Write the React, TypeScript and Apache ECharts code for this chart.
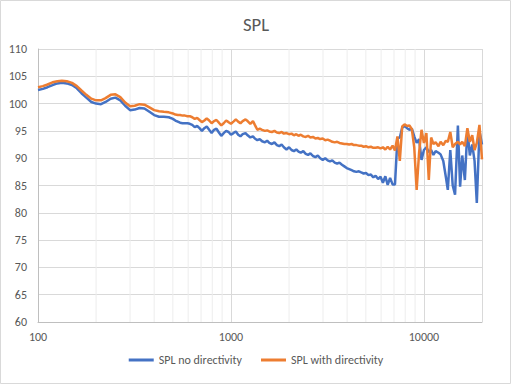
import React, { useEffect, useRef } from "react";
import * as echarts from "echarts";

const frequencies = [
  100, 106, 112, 119, 126, 133, 141, 150, 159, 168,
  178, 189, 200, 212, 224, 238, 252, 267, 283, 300,
  317, 336, 356, 378, 400, 424, 449, 476, 500, 515,
  530, 545, 561, 578, 595, 612, 630, 649, 668, 687,
  707, 728, 749, 771, 794, 817, 841, 866, 891, 917,
  944, 972, 1000, 1030, 1060, 1090, 1120, 1150, 1190, 1220,
  1260, 1300, 1330, 1370, 1410, 1450, 1500, 1540, 1580, 1630,
  1680, 1730, 1780, 1830, 1880, 1940, 2000, 2060, 2120, 2180,
  2240, 2300, 2370, 2440, 2510, 2580, 2660, 2740, 2820, 2900,
  2990, 3080, 3170, 3260, 3350, 3450, 3550, 3650, 3760, 3870,
  3980, 4100, 4220, 4340, 4470, 4600, 4730, 4870, 5010, 5160,
  5310, 5470, 5620, 5790, 5960, 6130, 6310, 6490, 6680, 6880,
  7080, 7290, 7500, 7720, 7940, 8180, 8410, 8660, 8910, 9170,
  9440, 9720, 10000, 10300, 10600, 10900, 11200, 11500, 11900, 12200,
  12600, 13000, 13300, 13700, 14100, 14500, 15000, 15400, 15800, 16300,
  16800, 17300, 17800, 18300, 18800, 19400, 20000,
];

const splNoDirectivity = [
  102.5, 102.7, 103.0, 103.4, 103.7, 103.8, 103.7, 103.4, 102.8, 101.9,
  101.1, 100.3, 100.0, 99.9, 100.3, 100.9, 101.1, 100.6, 99.6, 98.8,
  98.9, 99.2, 99.1, 98.5, 97.9, 97.6, 97.6, 97.5, 97.2, 96.9,
  96.7, 96.5, 96.4, 96.4, 96.4, 96.3, 96.1, 95.7, 95.9, 95.5,
  95.0, 95.5, 95.8, 95.2, 94.6, 95.2, 95.4, 94.7, 94.1, 94.6,
  95.0, 94.8, 94.3, 94.6, 94.9, 94.3, 94.0, 94.4, 94.6, 94.2,
  93.8, 94.0, 93.6, 93.3, 93.5, 93.1, 92.9, 93.2, 92.8, 92.6,
  92.9, 92.4, 92.2, 92.5, 92.0, 91.6, 92.0, 91.5, 91.3, 91.6,
  91.2, 91.0, 91.3, 90.8, 90.6, 90.9, 90.4, 90.2, 90.5, 90.0,
  89.7, 90.0, 89.6, 89.4, 89.6, 89.2, 89.0, 89.2, 88.8, 88.5,
  88.2, 88.0, 87.8, 87.6, 87.5, 87.6, 87.4, 87.2, 87.3, 86.9,
  87.0, 86.5, 86.8, 86.2, 86.6, 85.5, 86.7, 85.1, 86.4, 85.2,
  85.2, 93.6, 93.8, 95.6, 95.9, 95.5, 95.2, 95.4, 94.0, 92.8,
  93.5, 89.7, 91.5, 92.0, 91.1, 91.5, 90.6, 91.3, 91.0, 90.7,
  89.5, 86.5, 84.2, 91.5, 85.0, 83.3, 96.0, 84.8, 90.5, 86.0,
  95.2, 90.5, 92.5, 89.5, 81.8, 95.0, 92.5,
];

const splWithDirectivity = [
  103.0, 103.2, 103.5, 103.9, 104.1, 104.2, 104.1, 103.8, 103.2, 102.4,
  101.6, 100.9, 100.6, 100.6, 101.0, 101.6, 101.7, 101.2, 100.2, 99.5,
  99.6, 99.9, 99.8, 99.3, 98.8, 98.6, 98.5, 98.4, 98.2, 98.0,
  97.9, 97.9, 97.8, 97.8, 97.7, 97.7, 97.5, 97.2, 97.4, 97.0,
  96.6, 96.9, 97.3, 96.9, 96.4, 96.8, 97.0, 96.5, 96.0, 96.4,
  96.9, 96.6, 96.3, 96.7, 97.1, 96.7, 96.4, 96.8, 97.1, 96.8,
  96.3, 96.8, 96.1, 95.2, 95.4, 95.2, 95.0, 95.1, 94.9, 94.8,
  95.0, 94.7, 94.6, 94.8, 94.5, 94.6, 94.4, 94.5, 94.2, 94.4,
  94.1, 94.3, 94.0, 93.9, 94.1, 93.8, 93.9, 93.6, 93.7, 93.5,
  93.6, 93.3, 93.4, 93.2, 93.0, 92.9, 93.0, 92.8, 92.7, 92.6,
  92.6, 92.5, 92.6, 92.4, 92.4, 92.3, 92.3, 92.1, 92.2, 92.0,
  92.1, 91.9, 91.9, 92.0, 91.8, 92.0, 91.6, 92.1, 91.6, 92.3,
  91.4, 94.0, 89.5, 95.8, 96.2, 95.9, 96.0, 95.3, 92.0, 84.2,
  91.0, 95.2, 92.8, 94.6, 86.0, 93.8, 92.6, 92.9, 92.2, 93.0,
  92.4, 93.2, 93.0, 94.8, 92.0, 92.6, 93.0, 92.5, 93.0, 92.2,
  95.5, 93.0, 94.2, 91.5, 92.8, 96.1, 89.8,
];

const minorGridFreqs = [
  200, 300, 400, 500, 600, 700, 800, 900,
  2000, 3000, 4000, 5000, 6000, 7000, 8000, 9000,
];

const seriesNames = ["SPL no directivity", "SPL with directivity"];
const seriesColors = ["#4472C4", "#ED7D31"];

const FONT = "Carlito, 'Liberation Sans', Arial, sans-serif";
const TEXT = "#595959";

export default function App() {
  const ref = useRef<HTMLDivElement>(null);

  useEffect(() => {
    if (!ref.current) return;
    const chart = echarts.init(ref.current, undefined, { renderer: "svg" });
    const pairs = (vals: number[]) => frequencies.map((f, i) => [f, vals[i]]);

    chart.setOption({
      animation: false,
      backgroundColor: "#ffffff",
      textStyle: { fontFamily: FONT },
      title: {
        text: "SPL",
        left: "center",
        top: 10,
        textStyle: { fontFamily: FONT, fontSize: 18.7, fontWeight: "normal", color: TEXT },
      },
      graphic: [
        {
          type: "rect",
          shape: { x: 0.5, y: 0.5, width: 510, height: 383 },
          style: { fill: "none", stroke: "#d9d9d9", lineWidth: 1 },
          silent: true,
        },
      ],
      legend: {
        data: seriesNames,
        bottom: 14,
        left: "center",
        icon: "rect",
        itemWidth: 25,
        itemHeight: 3,
        itemGap: 19,
        textStyle: { fontFamily: FONT, fontSize: 12, color: TEXT },
      },
      grid: { left: 38, right: 30, top: 49, bottom: 63, containLabel: false },
      xAxis: {
        type: "log",
        logBase: 10,
        min: 100,
        max: 20000,
        axisLine: { show: true, lineStyle: { color: "#bfbfbf" } },
        axisTick: { show: false },
        axisLabel: {
          color: TEXT,
          fontSize: 12,
          fontFamily: FONT,
          margin: 9,
          showMaxLabel: false,
          formatter: (v: number) => String(Math.round(v)),
        },
        splitLine: { show: true, lineStyle: { color: "#d9d9d9" } },
      },
      yAxis: {
        type: "value",
        min: 60,
        max: 110,
        interval: 5,
        axisLine: { show: true, lineStyle: { color: "#bfbfbf" } },
        axisTick: { show: false },
        axisLabel: { color: TEXT, fontSize: 12, fontFamily: FONT, margin: 11 },
        splitLine: { show: true, lineStyle: { color: "#d9d9d9" } },
      },
      series: [
        {
          type: "custom",
          silent: true,
          z: 0,
          renderItem: (_params: any, api: any) => {
            const f = api.value(0);
            const p1 = api.coord([f, 110]);
            const p2 = api.coord([f, 60]);
            return {
              type: "line",
              shape: { x1: p1[0], y1: p1[1], x2: p2[0], y2: p2[1] },
              style: { stroke: "#ededed", lineWidth: 1 },
            };
          },
          encode: { x: 0, y: 1 },
          data: minorGridFreqs.map((f) => [f, 60]),
        },
        {
          name: seriesNames[0],
          type: "line",
          data: pairs(splNoDirectivity),
          showSymbol: false,
          symbol: "none",
          z: 2,
          lineStyle: { color: seriesColors[0], width: 2.5 },
          itemStyle: { color: seriesColors[0] },
        },
        {
          name: seriesNames[1],
          type: "line",
          data: pairs(splWithDirectivity),
          showSymbol: false,
          symbol: "none",
          z: 3,
          lineStyle: { color: seriesColors[1], width: 2.5 },
          itemStyle: { color: seriesColors[1] },
        },
      ],
    });

    return () => chart.dispose();
  }, []);

  return (
    <div
      ref={ref}
      style={{ position: "absolute", left: 0, top: 0, width: 512, height: 385 }}
    />
  );
}
